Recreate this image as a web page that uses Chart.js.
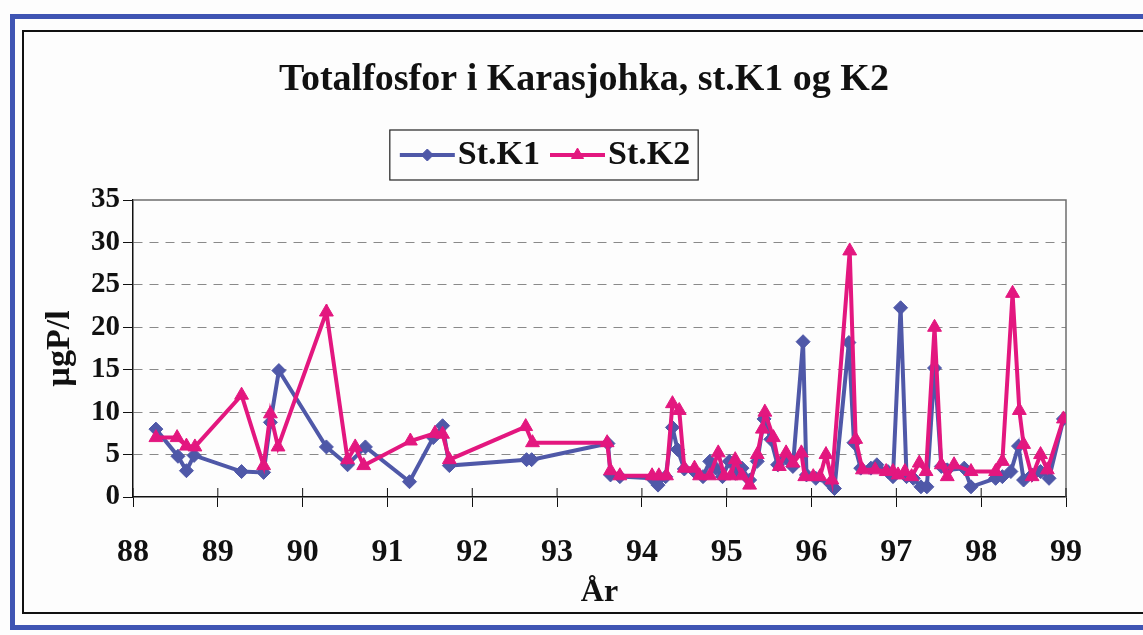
<!DOCTYPE html>
<html>
<head>
<meta charset="utf-8">
<script src="https://cdn.jsdelivr.net/npm/chart.js@4.4.1/dist/chart.umd.min.js"></script>
<style>
  html, body { margin: 0; padding: 0; background: #fff; }
  #wrap { position: relative; width: 1143px; height: 635px; overflow: hidden; background: #fdfdfd; }
  #blue { position: absolute; left: 10px; top: 14px; width: 1160px; height: 606px;
          border-left: 5px solid #3f55b3; border-top: 5px solid #3f55b3; border-bottom: 5px solid #3f55b3; }
  #box { position: absolute; left: 22px; top: 30px; width: 1130px; height: 580px; border: 2px solid #111; }
  canvas { position: absolute; left: 0; top: 0; }
</style>
</head>
<body>
<div id="wrap">
  <div id="blue"></div>
  <div id="box"></div>
  <canvas id="chart" width="1143" height="635"></canvas>
</div>
<script>
// St.K1 sampling dates (year, 88 = 1988) and totalfosfor values (µgP/l)
const k1Dates = [88.27, 88.53, 88.63, 88.72, 89.28, 89.54, 89.62, 89.72, 90.28, 90.53, 90.74,
  91.26, 91.54, 91.65, 91.73, 92.64, 92.70, 93.60, 93.63, 93.74,
  94.12, 94.19, 94.28, 94.36, 94.42, 94.50, 94.62, 94.72, 94.80, 94.87, 94.95,
  95.03, 95.10, 95.18, 95.27, 95.36, 95.44, 95.52, 95.60, 95.70, 95.78, 95.90, 95.94,
  96.05, 96.22, 96.27, 96.44, 96.50, 96.58, 96.70, 96.77, 96.90, 96.96,
  97.05, 97.12, 97.20, 97.29, 97.36, 97.45, 97.53, 97.60, 97.80, 97.88,
  98.17, 98.25, 98.35, 98.44, 98.50, 98.60, 98.70, 98.80, 98.97];
const k1Vals = [8.0, 4.8, 3.1, 4.9, 3.0, 2.9, 8.8, 14.9, 5.9, 3.8, 5.9,
  1.8, 7.0, 8.4, 3.7, 4.4, 4.4, 6.3, 2.6, 2.4,
  2.2, 1.4, 2.4, 8.2, 5.6, 3.3, 3.0, 2.4, 4.2, 3.4, 2.4,
  4.2, 2.8, 3.4, 2.0, 4.2, 9.2, 6.8, 3.8, 4.6, 3.6, 18.3, 2.6,
  2.2, 1.6, 1.0, 18.2, 6.4, 3.4, 3.4, 3.8, 3.0, 2.4,
  22.3, 2.4, 2.2, 1.2, 1.2, 15.2, 3.6, 3.2, 3.4, 1.2,
  2.2, 2.4, 3.0, 6.0, 2.0, 2.6, 3.0, 2.2, 9.2];

// St.K2
const k2Dates = [88.27, 88.52, 88.63, 88.73, 89.28, 89.54, 89.62, 89.71, 90.28, 90.53, 90.62, 90.72,
  91.27, 91.56, 91.65, 91.73, 92.63, 92.71, 93.59, 93.63, 93.74,
  94.12, 94.20, 94.29, 94.36, 94.44, 94.50, 94.62, 94.68, 94.80, 94.90, 94.97,
  95.05, 95.10, 95.18, 95.27, 95.36, 95.42, 95.45, 95.55, 95.62, 95.70, 95.78, 95.88, 95.92,
  96.02, 96.10, 96.17, 96.24, 96.45, 96.52, 96.60, 96.75, 96.88, 96.96,
  97.02, 97.10, 97.18, 97.27, 97.35, 97.45, 97.53, 97.60, 97.68, 97.88,
  98.17, 98.25, 98.37, 98.45, 98.50, 98.60, 98.70, 98.78, 98.97];
const k2Vals = [7.0, 7.0, 6.0, 5.9, 12.0, 3.7, 9.8, 5.9, 21.8, 4.4, 5.9, 3.7,
  6.6, 7.5, 7.4, 4.4, 8.3, 6.4, 6.4, 3.1, 2.5,
  2.5, 2.5, 2.5, 11.0, 10.2, 3.4, 3.4, 2.5, 2.5, 5.2, 2.5,
  2.5, 4.4, 2.5, 1.4, 5.0, 8.0, 10.0, 7.0, 3.6, 5.2, 4.0, 5.2, 2.4,
  2.4, 2.4, 5.0, 2.0, 29.0, 6.8, 3.2, 3.2, 3.0, 3.0,
  2.6, 3.0, 2.4, 4.0, 3.0, 20.0, 3.8, 2.4, 3.8, 3.0,
  3.0, 4.2, 24.0, 10.2, 6.2, 2.4, 5.0, 3.2, 9.2];

const xTicks = [88, 89, 90, 91, 92, 93, 94, 95, 96, 97, 98, 99];
const yTicks = [0, 5, 10, 15, 20, 25, 30, 35];

const BLUE = '#4f58a8';
const PINK = '#e3177f';
const FONT = "'Liberation Serif', 'Times New Roman', serif";

Chart.defaults.font.family = FONT;
Chart.defaults.color = '#111';

const toPoints = (dates, vals) => dates.map((d, i) => ({ x: d, y: vals[i] }));

// plot frame, crossing x ticks and a boxed line+marker legend
const excelLook = {
  id: 'excelLook',
  afterLayout(chart) {
    // title sits a bit right of the legend in the original
    chart.titleBlock.left += 31;
    chart.titleBlock.right += 31;
    chart.legend.left -= 8;
    chart.legend.right -= 8;
  },
  beforeDatasetsDraw(chart) {
    const { ctx, chartArea: a, scales: { x } } = chart;
    ctx.save();
    ctx.strokeStyle = '#6d6d6d';
    ctx.lineWidth = 1.5;
    ctx.beginPath();
    ctx.moveTo(a.left, a.top);
    ctx.lineTo(a.right, a.top);
    ctx.lineTo(a.right, a.bottom);
    ctx.stroke();
    ctx.strokeStyle = '#111';
    ctx.lineWidth = 1;
    x.ticks.forEach(t => {
      const px = x.getPixelForValue(t.value);
      ctx.beginPath();
      ctx.moveTo(px, a.bottom);
      ctx.lineTo(px, a.bottom - 9);
      ctx.stroke();
    });
    ctx.restore();
  },
  afterDraw(chart) {
    const ctx = chart.ctx;
    const hbs = chart.legend.legendHitBoxes;
    if (!hbs || !hbs.length) return;
    const cy = hbs[0].top + hbs[0].height / 2;
    ctx.save();
    chart.data.datasets.forEach((ds, i) => {
      const hb = hbs[i];
      ctx.strokeStyle = ds.borderColor;
      ctx.lineWidth = ds.borderWidth;
      ctx.beginPath();
      ctx.moveTo(hb.left, cy);
      ctx.lineTo(hb.left + 55, cy);
      ctx.stroke();
      ctx.fillStyle = ds.backgroundColor;
      ctx.strokeStyle = ds.borderColor;
      ctx.lineWidth = 1;
      Chart.helpers.drawPoint(ctx, { pointStyle: ds.pointStyle, radius: ds.pointRadius - 1, rotation: 0, borderWidth: 1 }, hb.left + 27.5, cy);
    });
    const last = hbs[hbs.length - 1];
    const bx = hbs[0].left - 10;
    ctx.strokeStyle = '#222';
    ctx.lineWidth = 1.2;
    ctx.strokeRect(bx, cy - 25, last.left + last.width + 8 - bx, 50);
    ctx.restore();
  }
};

new Chart(document.getElementById('chart'), {
  type: 'line',
  data: {
    datasets: [
      {
        label: 'St.K1', data: toPoints(k1Dates, k1Vals),
        borderColor: BLUE, backgroundColor: BLUE, borderWidth: 4,
        pointStyle: 'rectRot', pointRadius: 7, pointBorderWidth: 1, tension: 0, order: 1
      },
      {
        label: 'St.K2', data: toPoints(k2Dates, k2Vals),
        borderColor: PINK, backgroundColor: PINK, borderWidth: 4,
        pointStyle: 'triangle', pointRadius: 8, pointBorderWidth: 1, tension: 0, order: 0
      }
    ]
  },
  options: {
    responsive: false,
    animation: false,
    devicePixelRatio: 1,
    layout: { padding: { left: 40, right: 77, top: 40, bottom: 20 } },
    plugins: {
      title: {
        display: true,
        text: 'Totalfosfor i Karasjohka, st.K1 og K2',
        color: '#111',
        font: { size: 38, weight: 'bold', family: FONT },
        padding: { top: 17.2, bottom: 7.2 }
      },
      legend: {
        display: true,
        labels: {
          color: '#111',
          font: { size: 34, weight: 'bold', family: FONT },
          boxWidth: 41, boxHeight: 70, padding: 10,
          generateLabels(chart) {
            return chart.data.datasets.map((ds, i) => ({
              text: ds.label, datasetIndex: i, hidden: false,
              fillStyle: 'rgba(0,0,0,0)', strokeStyle: 'rgba(0,0,0,0)', lineWidth: 0, fontColor: '#111'
            }));
          }
        }
      },
      tooltip: { enabled: false }
    },
    scales: {
      x: {
        type: 'linear', min: xTicks[0], max: xTicks[xTicks.length - 1],
        afterBuildTicks(scale) { scale.ticks = xTicks.map(v => ({ value: v })); },
        afterFit(scale) { scale.height = 118; },
        ticks: { font: { size: 32, weight: 'bold', family: FONT }, color: '#111', padding: 27, maxRotation: 0 },
        grid: { drawOnChartArea: false, drawTicks: true, tickLength: 10, tickColor: '#111' },
        border: { color: '#111', width: 1.5 },
        title: { display: true, text: 'År', color: '#111', font: { size: 32, weight: 'bold', family: FONT }, padding: { top: 0, bottom: 3 } }
      },
      y: {
        min: yTicks[0], max: yTicks[yTicks.length - 1],
        afterBuildTicks(scale) { scale.ticks = yTicks.map(v => ({ value: v })); },
        afterFit(scale) { scale.width = 93; },
        ticks: { font: { size: 29, weight: 'bold', family: FONT }, color: '#111', padding: 3 },
        grid: {
          color: c => (c.tick && c.tick.value > 0 && c.tick.value < 35) ? '#8a8a8a' : 'rgba(0,0,0,0)',
          lineWidth: 1, tickLength: 10, tickColor: '#111'
        },
        border: { color: '#111', width: 1.5, dash: [9, 7] },
        title: { display: true, text: 'µgP/l', color: '#111', font: { size: 34, weight: 'bold', family: FONT }, padding: { top: 0, bottom: 0 } }
      }
    }
  },
  plugins: [excelLook]
});
</script>
</body>
</html>
